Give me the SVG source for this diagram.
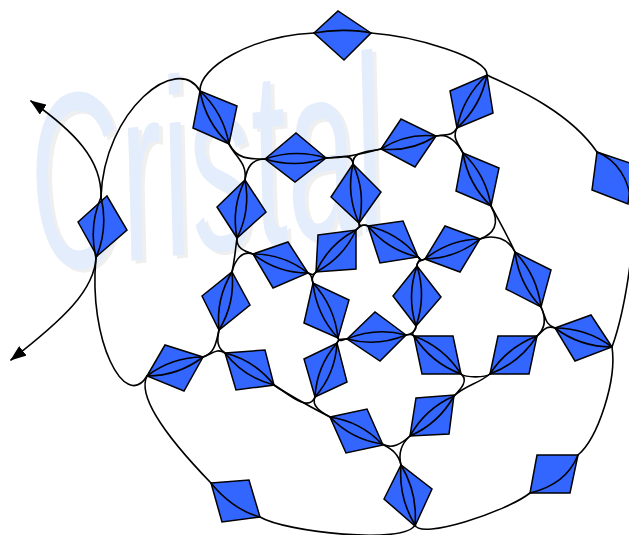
<svg xmlns="http://www.w3.org/2000/svg" width="629" height="535" viewBox="0 0 629 535">
<defs>
<style>
.d{fill:#3366ff;stroke:#000;stroke-width:1.5;stroke-linejoin:miter}
.c path{fill:none;stroke:#000;stroke-width:1.6;stroke-linecap:round}
.wm{font-family:"Liberation Sans",Arial,sans-serif;font-style:italic;font-size:250px}
</style>
<marker id="ah" viewBox="0 0 16 12" refX="15" refY="6" markerWidth="16" markerHeight="12" markerUnits="userSpaceOnUse" orient="auto"><path d="M0,0 L16,6 L0,12 z" fill="#000"/></marker>
</defs>
<rect width="629" height="535" fill="#fff"/>
<g id="watermark">
<text class="wm" transform="translate(44,275) rotate(-7) scale(0.5,1)" fill="#efefef">Cristal</text>
<text class="wm" transform="translate(40,272) rotate(-7) scale(0.5,1)" fill="#e4edfb">Cristal</text>
</g>
<g id="n1"><polygon class="d" points="78,222 107,196 127,230 97,256"/></g>
<g id="n2"><polygon class="d" points="200,91 237,106 229,144 193,128"/></g>
<g id="n3"><polygon class="d" points="265,159 296,133 326,158 295,182"/></g>
<g id="n4"><polygon class="d" points="217,207 245,180 266,212 237,238"/></g>
<g id="n5"><polygon class="d" points="314,33 338,11 371,33 344,60"/></g>
<g id="n6"><polygon class="d" points="450,91 487,75 493,113 457,128"/></g>
<g id="n7"><polygon class="d" points="381,149 401,119 436,136 415,167"/></g>
<g id="n8"><polygon class="d" points="463,153 499,168 491,206 456,191"/></g>
<g id="n9"><polygon class="d" points="597,152 633,164 628,204 592,190"/></g>
<g id="n10"><polygon class="d" points="331,197 353,164 381,192 359,223"/></g>
<g id="n11"><polygon class="d" points="318,235 356,230 356,269 316,272"/></g>
<g id="n12"><polygon class="d" points="368,226 403,221 418,257 380,263"/></g>
<g id="n13"><polygon class="d" points="425,259 445,226 480,239 460,272"/></g>
<g id="n14"><polygon class="d" points="506,289 515,252 551,270 541,307"/></g>
<g id="n15"><polygon class="d" points="253,254 288,242 308,273 273,288"/></g>
<g id="n16"><polygon class="d" points="202,296 232,272 250,305 219,330"/></g>
<g id="n17"><polygon class="d" points="304,323 313,283 349,300 338,338"/></g>
<g id="n18"><polygon class="d" points="225,353 265,350 274,385 236,390"/></g>
<g id="n19"><polygon class="d" points="304,359 337,343 347,382 315,397"/></g>
<g id="n20"><polygon class="d" points="147,376 165,345 203,357 184,391"/></g>
<g id="n21"><polygon class="d" points="211,483 249,480 260,517 222,522"/></g>
<g id="n22"><polygon class="d" points="347,339 375,312 406,335 380,361"/></g>
<g id="n23"><polygon class="d" points="393,296 417,266 441,297 416,326"/></g>
<g id="n24"><polygon class="d" points="414,336 453,336 461,374 422,374"/></g>
<g id="n25"><polygon class="d" points="498,336 537,336 529,374 490,374"/></g>
<g id="n26"><polygon class="d" points="555,328 591,315 612,347 575,361"/></g>
<g id="n27"><polygon class="d" points="537,455 578,455 570,493 530,493"/></g>
<g id="n28"><polygon class="d" points="384,499 401,465 432,489 415,526"/></g>
<g id="n29"><polygon class="d" points="330,417 367,409 383,445 346,453"/></g>
<g id="n30"><polygon class="d" points="416,398 454,395 449,434 410,436"/></g>
<g id="connectors" class="c">
<path d="M101,197 C102,160 75,132 31,101" marker-end="url(#ah)"/>
<path d="M96,258 C94,290 65,318 11,360" marker-end="url(#ah)"/>
<path d="M101,197 C104,110 178,52 200,91"/>
<path d="M200,91 C199,68 250,36 314,33"/>
<path d="M314,33 C330,30 355,29 371,33"/>
<path d="M371,33 C415,36 488,58 487,75"/>
<path d="M487,75 C495,80 565,105 597,152"/>
<path d="M597,152 C617,160 630,180 631,205 C633,225 634,245 630,265 C626,295 620,325 612,347"/>
<path d="M612,347 C617,380 598,438 578,455"/>
<path d="M578,455 C570,475 555,487 530,493"/>
<path d="M530,493 C506,512 420,540 415,525"/>
<path d="M260,517 C285,532 405,545 415,525"/>
<path d="M211,483 C222,497 240,512 260,517"/>
<path d="M147,376 C140,390 150,420 211,483"/>
<path d="M96,258 C88,340 125,412 147,376"/>
<path d="M229,144 C237,159 248,159 265,159"/>
<path d="M229,144 C237,159 247,163 245,180"/>
<path d="M265,159 C252,159 247,167 245,180"/>
<path d="M326,158 C348,157.6 359.7,154 381,149"/>
<path d="M326,158 C338,158 352,152 353,164"/>
<path d="M381,149 C368,152 352,151 353,164"/>
<path d="M457,128 C452,137 446,134 436,136"/>
<path d="M457,128 C452,138 458,143 463,153"/>
<path d="M436,136 C449,133 457,142 463,153"/>
<path d="M237,238 C236,248 244,251 253,254"/>
<path d="M237,238 C235,252 235,258 232,272"/>
<path d="M253,254 C242,250 235,260 232,272"/>
<path d="M359,223 C359.5,228 359.5,226.4 356,230"/>
<path d="M359,223 C359.5,228 363.8,223.4 368,226"/>
<path d="M356,230 C359.5,226.4 363.8,223.4 368,226"/>
<path d="M418,257 C422,260 420,261 425,259"/>
<path d="M418,257 C422,260 417,261 417,266"/>
<path d="M425,259 C420,261 417,261 417,266"/>
<path d="M491,206 C501,224.5 506,233 515,252"/>
<path d="M491,206 C501,224.5 493,234 480,239"/>
<path d="M480,239 C494,234 508.5,238.5 515,252"/>
<path d="M316,272 C312.6,275.6 312.7,274.7 308,273"/>
<path d="M316,272 C312.6,275.6 311,278.5 313,283"/>
<path d="M308,273 C312.7,274.7 311,278.5 313,283"/>
<path d="M219,330 C217,340 216.6,347.5 225,353"/>
<path d="M219,330 C216,343 215,353 203,357"/>
<path d="M225,353 C216.6,347.5 212.5,353.8 203,357"/>
<path d="M338,338 C340,342.5 339,338.3 337,343"/>
<path d="M338,338 C340,342.5 342,339.4 347,339"/>
<path d="M337,343 C339,338 342,339.4 347,339"/>
<path d="M406,335 C411,334.7 415.9,331 416,326"/>
<path d="M406,335 C411,334.7 410,333 414,336"/>
<path d="M416,326 C416,331 410,333 414,336"/>
<path d="M541,307 C546,318 546,328 537,336"/>
<path d="M541,307 C546,317 544.5,324.5 555,328"/>
<path d="M537,336 C544,330 546.5,325 555,328"/>
<path d="M461,374 C465.7,377.8 485.3,377.8 490,374"/>
<path d="M461,374 C469,380 461,389 454,396"/>
<path d="M490,374 C476.7,384.7 466.6,384.6 454,396"/>
<path d="M274,385 C288,394 308.5,413 315,397"/>
<path d="M274,385 C295,399 308,405.5 330,417"/>
<path d="M315,397 C311,406 321,412 330,417"/>
<path d="M382,444 C392.7,449.5 401,444 410,436"/>
<path d="M382,444 C392,449 398.5,454 401,465"/>
<path d="M410,436 C401,444 398,453 401,465"/>
<path d="M101,197 Q88.5,226.7 96,258"/><path d="M101,197 Q108.5,228.3 96,258"/>
<path d="M200,91 Q205.7,122.3 229,144"/><path d="M200,91 Q223.3,112.7 229,144"/>
<path d="M265,159 Q295.7,168.5 326,158"/><path d="M265,159 Q295.3,148.5 326,158"/>
<path d="M245,180 Q231.1,207.6 237,238"/><path d="M245,180 Q250.9,210.4 237,238"/>
<path d="M487,75 Q463.3,96.6 457,128"/><path d="M487,75 Q480.7,106.4 457,128"/>
<path d="M381,149 Q410.8,152.2 436,136"/><path d="M381,149 Q406.2,132.8 436,136"/>
<path d="M463,153 Q468.2,184.2 491,206"/><path d="M463,153 Q485.8,174.8 491,206"/>
<path d="M353,164 Q346,194.5 359,223"/><path d="M353,164 Q366,192.5 359,223"/>
<path d="M356,230 Q328.8,244.1 316,272"/><path d="M356,230 Q343.2,257.9 316,272"/>
<path d="M368,226 Q387.7,250 418,257"/><path d="M368,226 Q398.3,233 418,257"/>
<path d="M425,259 Q455.9,258.4 480,239"/><path d="M425,259 Q449.1,239.6 480,239"/>
<path d="M515,252 Q519,283.8 541,307"/><path d="M515,252 Q537,275.2 541,307"/>
<path d="M253,254 Q277.2,273 308,273"/><path d="M253,254 Q283.8,254 308,273"/>
<path d="M232,272 Q215.7,298.8 219,330"/><path d="M232,272 Q235.3,303.2 219,330"/>
<path d="M313,283 Q316.4,314.6 338,338"/><path d="M313,283 Q334.6,306.4 338,338"/>
<path d="M225,353 Q244,377.4 274,385"/><path d="M225,353 Q255,360.6 274,385"/>
<path d="M337,343 Q316.7,366.2 315,397"/><path d="M337,343 Q335.3,373.8 315,397"/>
<path d="M147,376 Q178.2,376 203,357"/><path d="M147,376 Q171.8,357 203,357"/>
<path d="M347,339 Q377.2,347 406,335"/><path d="M347,339 Q375.8,327 406,335"/>
<path d="M417,266 Q406.5,295.8 416,326"/><path d="M417,266 Q426.5,296.2 416,326"/>
<path d="M414,336 Q431.2,362.8 461,374"/><path d="M414,336 Q443.8,347.2 461,374"/>
<path d="M490,374 Q519.8,362.8 537,336"/><path d="M490,374 Q507.2,347.2 537,336"/>
<path d="M555,328 Q580.3,347 612,347"/><path d="M555,328 Q586.7,328 612,347"/>
<path d="M401,465 Q398.3,497.3 415,525"/><path d="M401,465 Q417.7,492.7 415,525"/>
<path d="M330,417 Q351.4,439.4 382,444"/><path d="M330,417 Q360.6,421.6 382,444"/>
<path d="M410,436 Q438.7,423.4 454,396"/><path d="M410,436 Q425.3,408.6 454,396"/>
</g>
</svg>
